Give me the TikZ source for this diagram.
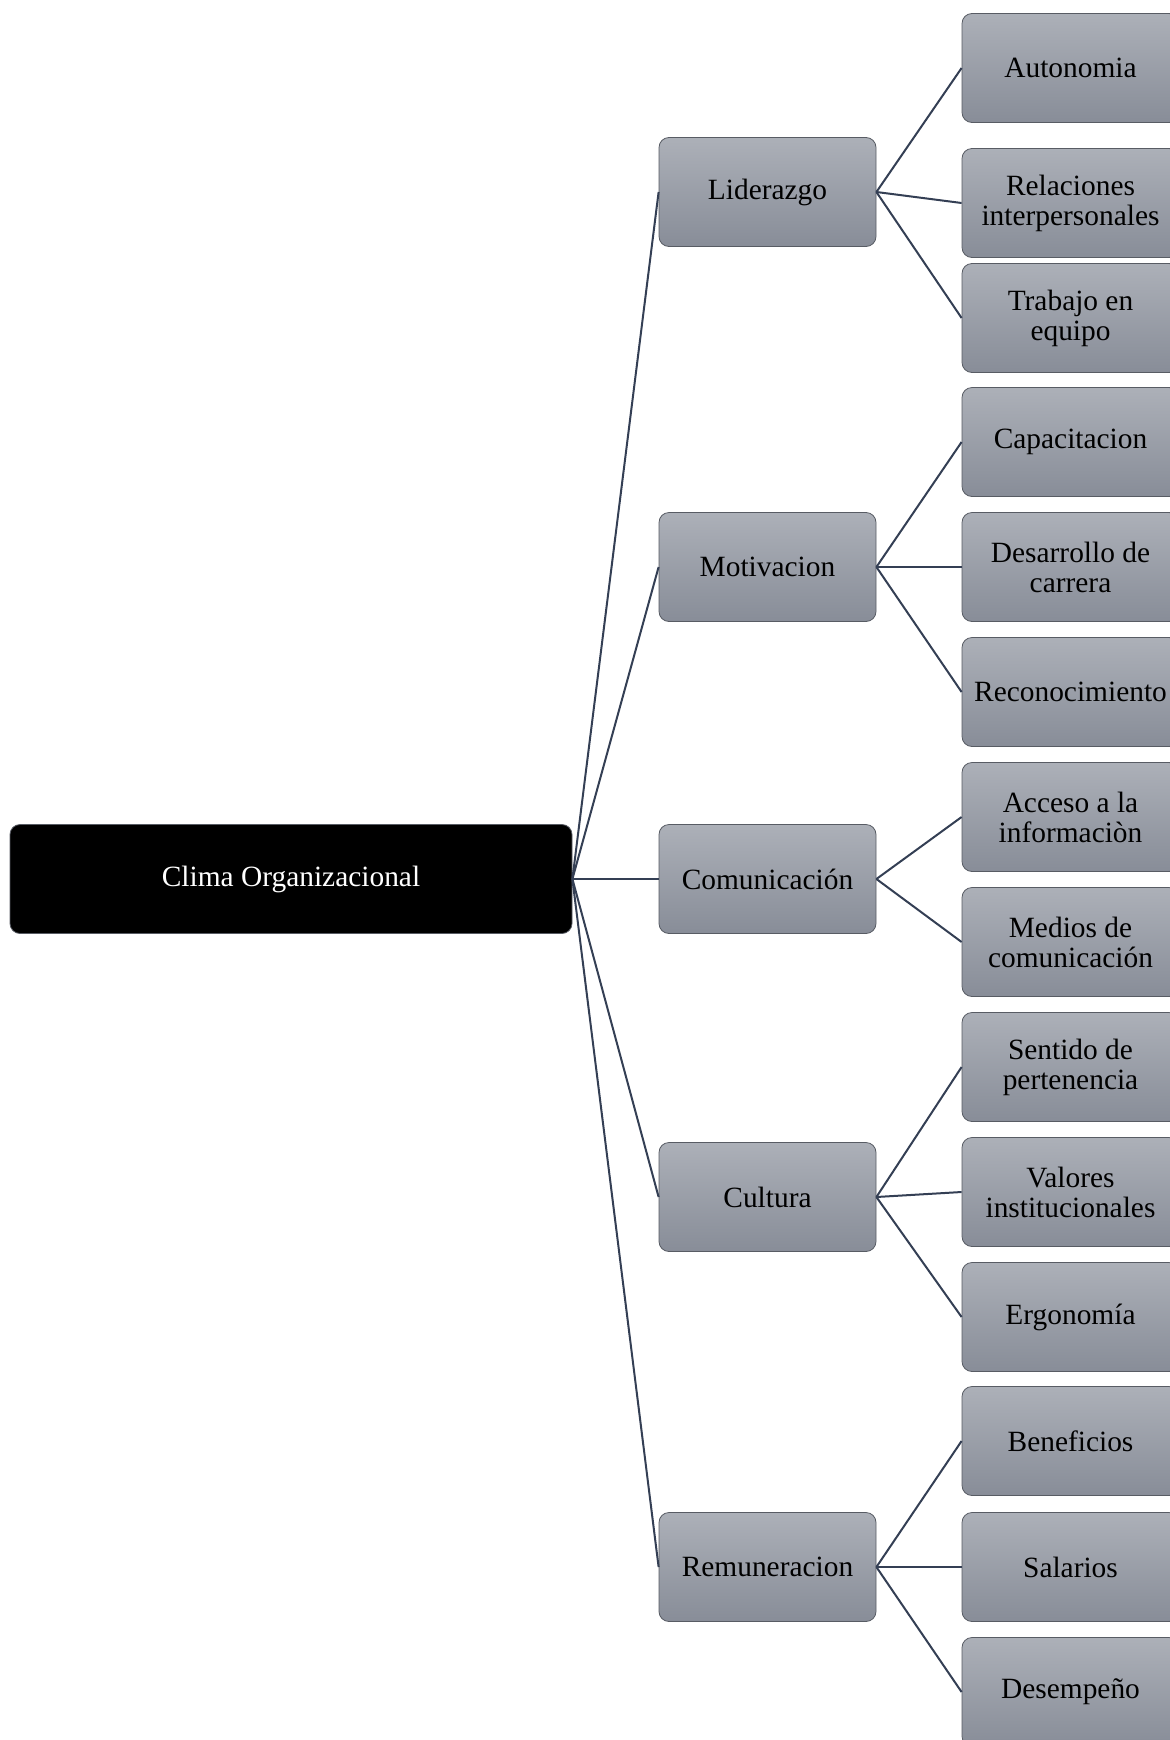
\documentclass[tikz,border=0pt]{standalone}
\usepackage{fontspec}
\setmainfont{Liberation Serif}
\definecolor{LineColor}{RGB}{52,63,84}
\definecolor{BoxTop}{RGB}{172,176,184}
\definecolor{BoxBottom}{RGB}{136,141,152}
\definecolor{BoxEdge}{RGB}{88,92,100}
\usetikzlibrary{positioning, arrows.meta}

\begin{document}
\begin{tikzpicture}[x=0.5pt, y=-0.5pt,
    every node/.style={font=\fontsize{14.7}{15}\selectfont, align=center},
    rootbox/.style={fill=black, draw=BoxEdge, rounded corners=5pt, text=white, minimum width=281pt, minimum height=54.5pt},
    itembox/.style={top color=BoxTop, bottom color=BoxBottom, draw=BoxEdge, rounded corners=5pt, minimum width=108.5pt, minimum height=54.5pt, inner sep=1pt},
    link/.style={LineColor, line width=1pt}]
  \useasboundingbox (0,0) rectangle (1170,1740);
  \clip (0,0) rectangle (1170,1740);
  \node[rootbox] (clima) at (291,879) {Clima Organizacional};
  \node[itembox] (liderazgo) at (767.5,192) {Liderazgo};
  \node[itembox] (motivacion) at (767.5,567) {Motivacion};
  \node[itembox] (comunicacion) at (767.5,879) {Comunicación};
  \node[itembox] (cultura) at (767.5,1197) {Cultura};
  \node[itembox] (remuneracion) at (767.5,1567) {Remuneracion};
  \node[itembox] (autonomia) at (1070.5,68) {Autonomia};
  \node[itembox] (relaciones) at (1070.5,203) {Relaciones\\interpersonales};
  \node[itembox] (trabajo) at (1070.5,318) {Trabajo en\\equipo};
  \node[itembox] (capacitacion) at (1070.5,442) {Capacitacion};
  \node[itembox] (desarrollo) at (1070.5,567) {Desarrollo de\\carrera};
  \node[itembox] (reconocimiento) at (1070.5,692) {Reconocimiento};
  \node[itembox] (acceso) at (1070.5,817) {Acceso a la\\informaciòn};
  \node[itembox] (medios) at (1070.5,942) {Medios de\\comunicación};
  \node[itembox] (sentido) at (1070.5,1067) {Sentido de\\pertenencia};
  \node[itembox] (valores) at (1070.5,1192) {Valores\\institucionales};
  \node[itembox] (ergonomia) at (1070.5,1317) {Ergonomía};
  \node[itembox] (beneficios) at (1070.5,1441) {Beneficios};
  \node[itembox] (salarios) at (1070.5,1567) {Salarios};
  \node[itembox] (desempeno) at (1070.5,1692) {Desempeño};
  \foreach \m in {liderazgo, motivacion, comunicacion, cultura, remuneracion}
    \draw[link] (clima.east) -- (\m.west);
  \foreach \m/\l in {liderazgo/autonomia, liderazgo/relaciones, liderazgo/trabajo,
      motivacion/capacitacion, motivacion/desarrollo, motivacion/reconocimiento,
      comunicacion/acceso, comunicacion/medios,
      cultura/sentido, cultura/valores, cultura/ergonomia,
      remuneracion/beneficios, remuneracion/salarios, remuneracion/desempeno}
    \draw[link] (\m.east) -- (\l.west);
\end{tikzpicture}
\end{document}
